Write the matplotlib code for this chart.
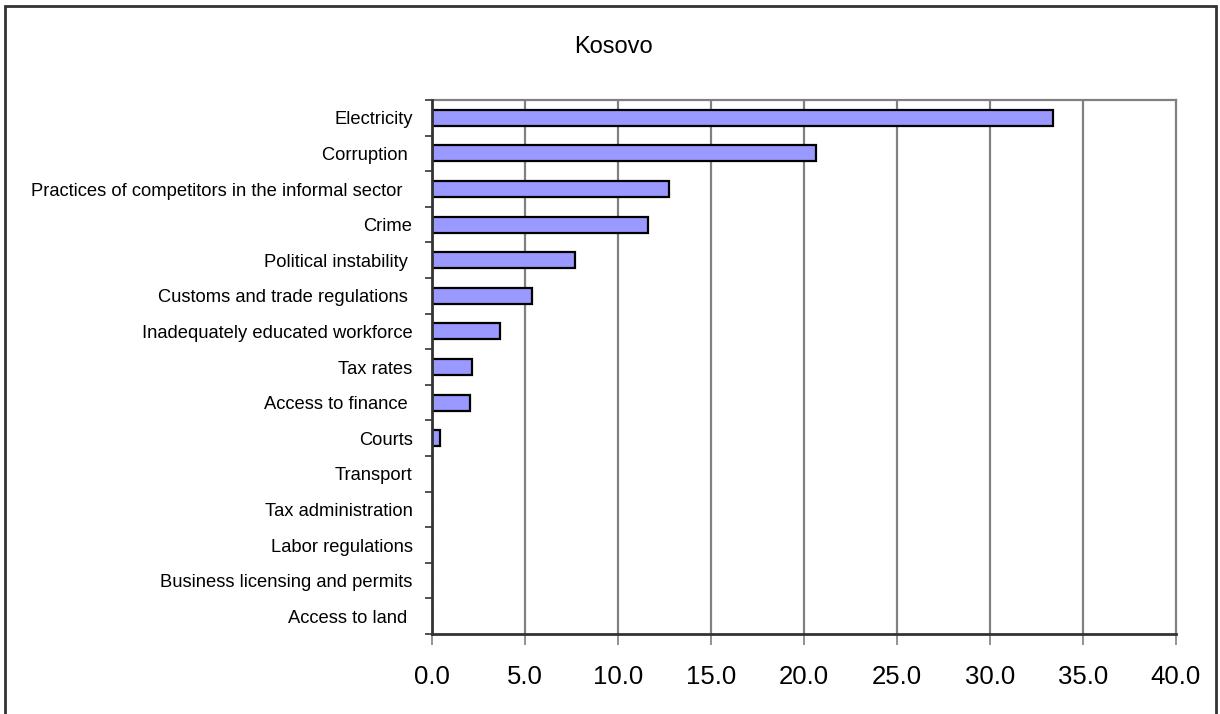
import matplotlib.pyplot as plt
from matplotlib.patches import Rectangle
from matplotlib.ticker import FixedLocator

plt.rcParams['font.family'] = ['Liberation Sans', 'DejaVu Sans']

title = "Kosovo"
categories = [
    "Electricity",
    "Corruption ",
    "Practices of competitors in the informal sector  ",
    "Crime",
    "Political instability ",
    "Customs and trade regulations ",
    "Inadequately educated workforce",
    "Tax rates",
    "Access to finance ",
    "Courts",
    "Transport",
    "Tax administration",
    "Labor regulations",
    "Business licensing and permits",
    "Access to land ",
]
values = [33.4, 20.65, 12.75, 11.6, 7.7, 5.35, 3.65, 2.15, 2.05, 0.45, 0, 0, 0, 0, 0]
xticks = [0, 5, 10, 15, 20, 25, 30, 35, 40]


def main():
    fig = plt.figure(figsize=(12.2, 7.14), dpi=100)
    ax = fig.add_axes([0.3541, 0.1120, 0.6098, 0.7479])

    n = len(categories)
    ypos = [n - 1 - i for i in range(n)]

    # vertical gridlines behind the bars
    for x in xticks[1:-1]:
        ax.axvline(x, color='#808080', lw=1.6, zorder=1)

    ax.barh(ypos, values, height=0.45, color='#9999FF',
            edgecolor='black', linewidth=1.6, zorder=3)

    ax.set_xlim(0, 40)
    ax.set_ylim(-0.5, n - 0.5)

    ax.set_xticks(xticks)
    ax.set_xticklabels(['%.1f' % v for v in xticks], fontsize=18.5)
    ax.tick_params(axis='x', direction='out', length=8, width=1.2,
                   color='#808080', pad=14)

    ax.set_yticks(ypos)
    ax.set_yticklabels(categories, fontsize=13.2)
    ax.tick_params(axis='y', which='major', length=0, pad=14)
    ax.yaxis.set_minor_locator(FixedLocator([y - 0.5 for y in range(n + 1)]))
    ax.tick_params(axis='y', which='minor', direction='out', length=5,
                   width=1.2, color='#333333')

    for side in ('top', 'right'):
        ax.spines[side].set_color('#808080')
        ax.spines[side].set_linewidth(1.6)
    for side in ('left', 'bottom'):
        ax.spines[side].set_color('#333333')
        ax.spines[side].set_linewidth(2)
        ax.spines[side].set_zorder(4)

    fig.text(0.5025, 0.934, title, fontsize=17, ha='center', va='center')

    # outer chart frame
    fig.patches.append(Rectangle((5 / 1220, -0.05), 1211 / 1220, 1.05 - 6 / 714,
                                 transform=fig.transFigure, fill=False,
                                 edgecolor='#333333', lw=2))

    fig.savefig('out.png', dpi=100)


if __name__ == "__main__":
    main()
